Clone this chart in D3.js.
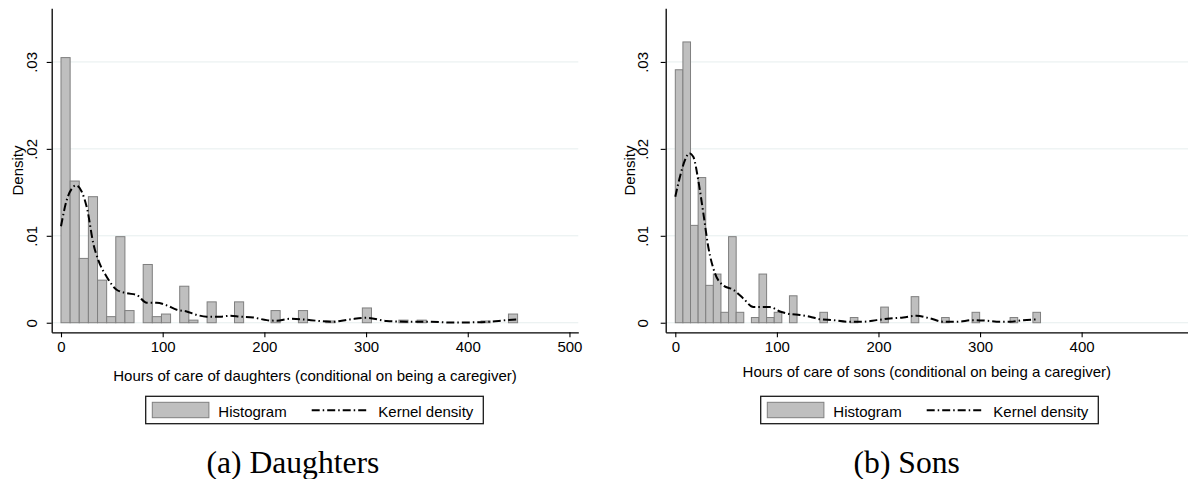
<!DOCTYPE html>
<html>
<head>
<meta charset="utf-8">
<script src="https://cdn.jsdelivr.net/npm/d3@7"></script>
<style>
  html, body { margin: 0; padding: 0; background: #fff; }
  svg { display: block; }
  text { font-family: "Liberation Sans", Arial, sans-serif; fill: #000; }
</style>
</head>
<body>
<svg id="chart" width="1188" height="479"></svg>
<script>
// ---------------- DATA ----------------
const yTicks = [0, 0.01, 0.02, 0.03];
const yTickLabels = ["0", ".01", ".02", ".03"];

// Daughters
const daughtersXTicks = [0, 100, 200, 300, 400, 500];
const daughtersBinWidth = 8.98;
const daughtersHist = [
  0.0305, 0.0163, 0.0074, 0.0145, 0.0049, 0.0007, 0.0099, 0.0014, 0, 0.0067,
  0.0007, 0.0010, 0, 0.0042, 0.0003, 0, 0.0024, 0, 0, 0.0024,
  0, 0, 0, 0.0014, 0, 0, 0.0014, 0, 0, 0.0002,
  0, 0, 0, 0.0017, 0, 0, 0, 0.0003, 0, 0.0003,
  0, 0, 0, 0, 0, 0, 0.0002, 0, 0, 0.0010
];
const daughtersKdeX = [0, 5.6, 10.5, 14.8, 20.3, 25.9, 31.8, 36.7, 44.9, 54.7, 64.6, 74.4, 84.3, 94.1, 103.9, 113.8, 123.6, 133.5, 143.3, 156.4, 166.3, 176.1, 189.2, 202.3, 212.2, 225.3, 238.3, 251.4, 266.2, 284.2, 300.6, 320.2, 339.9, 362.8, 382.5, 402.2, 421.8, 438.3, 449.7];
const daughtersKdeY = [0.0111, 0.0141, 0.0154, 0.0158, 0.0151, 0.0130, 0.0091, 0.0072, 0.0053, 0.0038, 0.0034, 0.0032, 0.0023, 0.0023, 0.0020, 0.0015, 0.0013, 0.0009, 0.0007, 0.0007, 0.0008, 0.0007, 0.0006, 0.0003, 0.00023, 0.00045, 0.00038, 0.00023, 0.0001, 0.00038, 0.00057, 0.0002, 0.00012, 0.00012, 0.00002, 0.00004, 0.00012, 0.0003, 0.00038];

// Sons
const sonsXTicks = [0, 100, 200, 300, 400];
const sonsBinWidth = 7.49;
const sonsHist = [
  0.0291, 0.0323, 0.0112, 0.0167, 0.0043, 0.0056, 0.0012, 0.0099, 0.0012, 0,
  0.0006, 0.0056, 0.0006, 0.0012, 0, 0.0031, 0, 0, 0, 0.0012,
  0, 0, 0, 0.0006, 0, 0, 0, 0.0018, 0, 0,
  0, 0.0030, 0, 0, 0, 0.0006, 0, 0, 0, 0.0012,
  0, 0, 0, 0, 0.0006, 0, 0, 0.0012
];
const sonsKdeX = [0, 4.6, 9.5, 13.8, 17.7, 22.6, 27.6, 32.5, 39.0, 47.2, 57.1, 66.9, 76.8, 83.3, 93.2, 103.0, 112.9, 122.7, 132.6, 142.4, 155.5, 168.6, 178.5, 185.1, 198.2, 211.3, 224.4, 237.5, 250.6, 263.8, 276.9, 293.3, 306.4, 319.5, 329.4, 342.5, 357.3];
const sonsKdeY = [0.0145, 0.0168, 0.0187, 0.0195, 0.0191, 0.0164, 0.0126, 0.0087, 0.0057, 0.0043, 0.0038, 0.0028, 0.0018, 0.0018, 0.0018, 0.0013, 0.0010, 0.0009, 0.0007, 0.0004, 0.0003, 0.00012, 0.00012, 0.00012, 0.0003, 0.0005, 0.0006, 0.0008, 0.0005, 0.00012, 0.00012, 0.0003, 0.00023, 0.0001, 0.00012, 0.0003, 0.00038];

const legendLabels = ["Histogram", "Kernel density"];
const yTitle = "Density";
const daughtersXTitle = "Hours of care of daughters (conditional on being a caregiver)";
const sonsXTitle = "Hours of care of sons (conditional on being a caregiver)";
const captions = ["(a) Daughters", "(b) Sons"];

// ---------------- DRAW ----------------
const svg = d3.select("#chart");
const barFill = "#bfbfbf", barStroke = "#7f7f7f", gridColor = "#e6eeee";

function panel(cfg) {
  const g = svg.append("g");
  const x = d3.scaleLinear().domain(cfg.xDomain).range([cfg.left, cfg.right]);
  const y = d3.scaleLinear().domain([-0.0011, 0.03617]).range([332.3, 8.3]);

  // gridlines
  g.append("g").selectAll("line").data(yTicks).join("line")
    .attr("x1", cfg.left).attr("x2", cfg.right)
    .attr("y1", d => y(d)).attr("y2", d => y(d))
    .attr("stroke", gridColor).attr("stroke-width", 1);

  // bars
  const bars = cfg.hist.map((v, i) => ({x0: i * cfg.binWidth, x1: (i + 1) * cfg.binWidth, v}))
    .filter(d => d.v > 0);
  g.append("g").selectAll("rect").data(bars).join("rect")
    .attr("x", d => x(d.x0)).attr("width", d => x(d.x1) - x(d.x0))
    .attr("y", d => y(d.v)).attr("height", d => y(0) - y(d.v))
    .attr("fill", barFill).attr("stroke", barStroke).attr("stroke-width", 1);

  // kde line
  const pts = cfg.kdeX.map((d, i) => [d, cfg.kdeY[i]]);
  g.append("path").datum(pts)
    .attr("d", d3.line().x(d => x(d[0])).y(d => y(d[1])).curve(d3.curveMonotoneX))
    .attr("fill", "none").attr("stroke", "#000").attr("stroke-width", 2)
    .attr("stroke-dasharray", "8 3 1.5 3");

  // axes
  const xAxis = g.append("g").attr("transform", `translate(0,332.3)`)
    .call(d3.axisBottom(x).tickValues(cfg.xTicks).tickFormat(d3.format("d")).tickSize(5).tickSizeOuter(0));
  xAxis.selectAll("text").attr("y", 9).attr("font-size", 15).style("font-family", "Liberation Sans, Arial, sans-serif");
  const yAxis = g.append("g").attr("transform", `translate(${cfg.left},0)`)
    .call(d3.axisLeft(y).tickValues(yTicks).tickFormat((d, i) => yTickLabels[i]).tickSize(5).tickSizeOuter(0));
  yAxis.selectAll("text")
    .attr("transform", "rotate(-90)")
    .attr("x", 0).attr("y", cfg.yLabOff).attr("dy", "0.35em")
    .attr("text-anchor", "middle").attr("font-size", 15)
    .style("font-family", "Liberation Sans, Arial, sans-serif");
  [xAxis, yAxis].forEach(a => {
    a.select(".domain").attr("stroke", "#000").attr("stroke-width", 1.3);
    a.selectAll(".tick line").attr("stroke", "#000").attr("stroke-width", 1.1);
  });

  // titles
  g.append("text").attr("transform", `translate(${cfg.yTitleX},170.5) rotate(-90)`)
    .attr("text-anchor", "middle").attr("font-size", 15).text(yTitle);
  g.append("text").attr("x", (cfg.left + cfg.right) / 2).attr("y", cfg.xTitleY)
    .attr("text-anchor", "middle").attr("font-size", 15).text(cfg.xTitle);

  // legend
  const lx = cfg.legendX, ly = 396.3;
  const lg = g.append("g");
  lg.append("rect").attr("x", lx).attr("y", ly).attr("width", 337.6).attr("height", 27.4)
    .attr("fill", "#fff").attr("stroke", "#1a1a1a").attr("stroke-width", 1.3);
  lg.append("rect").attr("x", lx + 6.6).attr("y", ly + 6).attr("width", 56.6).attr("height", 15.4)
    .attr("fill", barFill).attr("stroke", barStroke).attr("stroke-width", 1);
  lg.append("text").attr("x", lx + 72.6).attr("y", ly + 20.2).attr("font-size", 15).text(legendLabels[0]);
  lg.append("line").attr("x1", lx + 166).attr("x2", lx + 223.5).attr("y1", ly + 14).attr("y2", ly + 14)
    .attr("stroke", "#000").attr("stroke-width", 2).attr("stroke-dasharray", "8 3 1.5 3");
  lg.append("text").attr("x", lx + 232.6).attr("y", ly + 20.2).attr("font-size", 15).text(legendLabels[1]);

  // caption
  svg.append("text").attr("x", cfg.captionX).attr("y", 473)
    .attr("text-anchor", "middle").attr("font-size", 31.6)
    .style("font-family", "Liberation Serif, Times New Roman, serif")
    .text(cfg.caption);
}

panel({
  left: 51.7, right: 578.3, xDomain: [-9.14, 508.7], xTicks: daughtersXTicks,
  hist: daughtersHist, binWidth: daughtersBinWidth, kdeX: daughtersKdeX, kdeY: daughtersKdeY,
  yLabOff: -20, yTitleX: 23, xTitle: daughtersXTitle, xTitleY: 381,
  legendX: 145.7, caption: captions[0], captionX: 292.9
});
panel({
  left: 665.7, right: 1188, xDomain: [-9.45, 504.7], xTicks: sonsXTicks,
  hist: sonsHist, binWidth: sonsBinWidth, kdeX: sonsKdeX, kdeY: sonsKdeY,
  yLabOff: -22.7, yTitleX: 635, xTitle: sonsXTitle, xTitleY: 376.5,
  legendX: 760.7, caption: captions[1], captionX: 906.7
});
</script>
</body>
</html>
